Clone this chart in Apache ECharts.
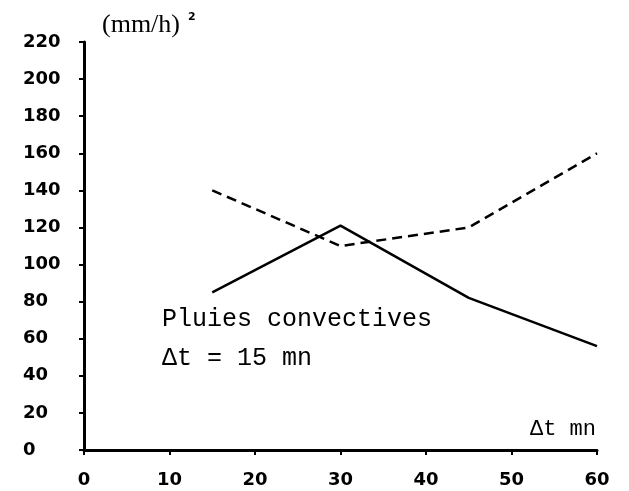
<!DOCTYPE html>
<html><head><meta charset="utf-8">
<script src="https://cdn.jsdelivr.net/npm/echarts@6/dist/echarts.min.js"></script>
<style>html,body{margin:0;padding:0;background:#fff}#c{width:629px;height:491px}</style>
</head><body><div id="c"></div>
<script>
var xTicks = [0, 10, 20, 30, 40, 50, 60];
var yTicks = [0, 20, 40, 60, 80, 100, 120, 140, 160, 180, 200, 220];
var dtMinutes = [15, 30, 45, 60];
var solidValues = [85, 121, 82, 56];
var dashedValues = [140, 110, 120, 160];

var chart = echarts.init(document.getElementById('c'), null, {renderer: 'canvas'});
var labelFont = {fontFamily: 'DejaVu Sans', fontWeight: 'bold', fontSize: 18, color: '#000'};
chart.setOption({
  animation: false,
  backgroundColor: '#fff',
  grid: {left: 84, right: 32, top: 42, bottom: 41},
  xAxis: {
    type: 'value', min: xTicks[0], max: xTicks[xTicks.length - 1], interval: 10,
    axisLine: {lineStyle: {color: '#000', width: 3}},
    axisTick: {show: true, length: 5, lineStyle: {color: '#000', width: 2}},
    axisLabel: Object.assign({margin: 21}, labelFont),
    splitLine: {show: false}
  },
  yAxis: {
    type: 'value', min: yTicks[0], max: yTicks[yTicks.length - 1], interval: 20,
    axisLine: {show: true, lineStyle: {color: '#000', width: 3}},
    axisTick: {show: true, length: 5, lineStyle: {color: '#000', width: 2}},
    axisLabel: Object.assign({margin: 61, align: 'left', padding: [0, 0, 11, 0]}, labelFont),
    splitLine: {show: false}
  },
  series: [
    {
      type: 'line', symbol: 'none',
      data: dtMinutes.map(function (x, i) { return [x, solidValues[i]]; }),
      lineStyle: {color: '#000', width: 2.5}
    },
    {
      type: 'line', symbol: 'none',
      data: dtMinutes.map(function (x, i) { return [x, dashedValues[i]]; }),
      lineStyle: {color: '#000', width: 2.5, type: [10, 6]}
    }
  ],
  graphic: [
    {type: 'text', left: 102, top: 12, style: {
      text: '{a|(mm/h)}{b|2}',
      rich: {
        a: {fontFamily: 'Liberation Serif', fontSize: 26, fill: '#000'},
        b: {fontFamily: 'DejaVu Sans', fontWeight: 'bold', fontSize: 11, fill: '#000', verticalAlign: 'top', padding: [0, 0, 0, 8]}
      }
    }},
    {type: 'text', left: 162, top: 307, style: {text: 'Pluies convectives', font: '25px "Liberation Mono"', fill: '#000'}},
    {type: 'text', left: 162, top: 346, style: {text: 'Δt = 15 mn', font: '25px "Liberation Mono"', fill: '#000'}},
    {type: 'text', left: 530, top: 418, style: {text: 'Δt mn', font: '22px "Liberation Mono"', fill: '#000'}}
  ]
});
</script></body></html>
